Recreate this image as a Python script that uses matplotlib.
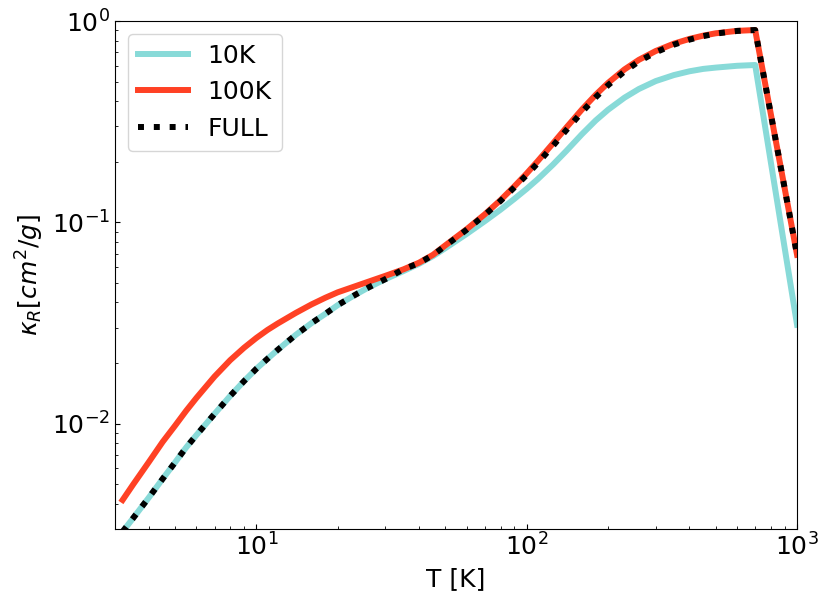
import numpy as np
import matplotlib
matplotlib.use("Agg")
import matplotlib.pyplot as plt

# temperature grid [K]
T = [3.2, 3.5, 4, 4.5, 5, 5.5, 6, 7, 8, 9, 10, 11, 12, 14, 16, 18, 20, 23, 26, 30,
     35, 40, 45, 50, 60, 70, 80, 90, 100, 110, 125, 140, 160, 180, 200, 230, 260,
     300, 350, 400, 450, 500, 600, 700, 1000]

# Rosseland mean opacity [cm^2/g]
kappa_10K = [2.911e-3, 3.396e-3, 4.296e-3, 5.322e-3, 6.418e-3, 7.625e-3, 8.778e-3,
             0.01119, 0.01374, 0.01627, 0.01875, 0.02103, 0.02329, 0.02765, 0.03161,
             0.03514, 0.03882, 0.04337, 0.04751, 0.05224, 0.05731, 0.06230, 0.06798,
             0.07447, 0.08768, 0.1014, 0.1156, 0.1308, 0.1468, 0.1642, 0.1934, 0.2261,
             0.2740, 0.3208, 0.3625, 0.4163, 0.4597, 0.5031, 0.5388, 0.5628, 0.5784,
             0.5870, 0.5993, 0.6047, 0.0310]
kappa_100K = [4.18e-3, 4.99e-3, 6.45e-3, 8.12e-3, 9.77e-3, 0.01160, 0.01343,
              0.01715, 0.02068, 0.02383, 0.02668, 0.02924, 0.03147, 0.03552, 0.03914,
              0.04224, 0.04494, 0.04796, 0.05078, 0.05426, 0.05843, 0.06310, 0.06900,
              0.07690, 0.09253, 0.1097, 0.1290, 0.1509, 0.1750, 0.2020, 0.2465, 0.2952,
              0.3634, 0.4302, 0.4929, 0.5751, 0.6417, 0.7097, 0.7717, 0.8149, 0.8462,
              0.8689, 0.8936, 0.9023, 0.0690]
kappa_full = [2.911e-3, 3.396e-3, 4.296e-3, 5.322e-3, 6.418e-3, 7.625e-3, 8.778e-3,
              0.01119, 0.01374, 0.01627, 0.01875, 0.02103, 0.02329, 0.02765, 0.03161,
              0.03514, 0.03882, 0.04337, 0.04751, 0.05224, 0.05848, 0.06281, 0.06876,
              0.07645, 0.09200, 0.1089, 0.1278, 0.1491, 0.1720, 0.1973, 0.2397, 0.2868,
              0.3527, 0.4181, 0.4801, 0.5622, 0.6302, 0.6993, 0.7630, 0.8085, 0.8415,
              0.8659, 0.8927, 0.9023, 0.0690]

plt.rcParams['font.size'] = 18

fig = plt.figure(figsize=(8.3, 6.04), dpi=100)
ax = fig.add_axes([0.1386, 0.1242, 0.8217, 0.841])

ax.loglog(T, kappa_10K, color='#88dad8', lw=4.3, label='10K')
ax.loglog(T, kappa_100K, color='#ff4124', lw=4.3, label='100K')
ax.loglog(T, kappa_full, color='black', lw=4.3, ls=':', label='FULL')

ax.set_xlim(3, 1000)
ax.set_ylim(3e-3, 1)
ax.tick_params(which='both', direction='in', labelsize=18)
ax.set_xlabel('T [K]', fontsize=18)
ax.set_ylabel(r'$\kappa_R [cm^2/g]$', fontsize=18)
ax.legend(loc='upper left', fontsize=18)

fig.savefig('out.png', dpi=100)
